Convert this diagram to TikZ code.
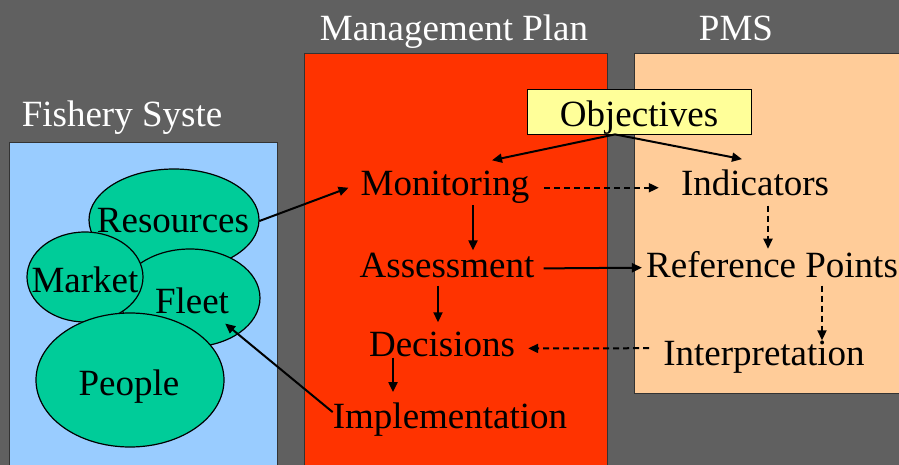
\documentclass[tikz,border=0pt]{standalone}
\usepackage{fontspec}
\setmainfont{Liberation Serif}
\usetikzlibrary{arrows.meta}

\definecolor{slidegray}{RGB}{96,96,96}
\definecolor{fishblue}{RGB}{153,204,255}
\definecolor{planred}{RGB}{255,51,0}
\definecolor{pmspeach}{RGB}{255,204,153}
\definecolor{blobgreen}{RGB}{0,204,153}
\definecolor{objyellow}{RGB}{255,255,153}
\newcommand{\slidefont}{\fontsize{37pt}{44pt}\selectfont}

\begin{document}
\begin{tikzpicture}[x=1pt, y=-1pt,
    txt/.style={font=\slidefont, inner sep=0pt, anchor=base},
    title/.style={txt, text=white},
    panel/.style={draw=black!80, line width=1pt},
    blob/.style={fill=blobgreen, draw=black, line width=1.2pt},
    arr/.style={line width=2pt, -{Triangle[length=10pt,width=9pt]}},
    dasharr/.style={arr, dash pattern=on 6pt off 4pt}]
    \useasboundingbox (0,0) rectangle (899,465);
    \clip (0,0) rectangle (899,465);
    \fill[slidegray] (0,0) rectangle (899,465);

    % draw panels
    \draw[panel, fill=fishblue] (9,143) rectangle (277,475);
    \draw[panel, fill=planred] (304,54) rectangle (607,475);
    \draw[panel, fill=pmspeach] (634,54) rectangle (910,393);

    % draw titles
    \node[title] (fishtitle) at (122,127) {Fishery Syste};
    \node[title] (plantitle) at (454,41) {Management Plan};
    \node[title] (pmstitle) at (736,41) {PMS};

    % draw ellipses
    \foreach \cx/\cy/\rx/\ry in {174/220/85/51, 190/298/70/49, 85/277/58/45, 130/380/94/67}
      \draw[blob] (\cx,\cy) ellipse [x radius=\rx, y radius=\ry];

    \node[txt] (res) at (173,233) {Resources};
    \node[txt] (mkt) at (85,292) {Market};
    \node[txt] (flt) at (192,313) {Fleet};
    \node[txt] (ppl) at (129,395) {People};

    % draw plan steps
    \node[txt] (mon) at (445,196) {Monitoring};
    \node[txt] (ass) at (447,277) {Assessment};
    \node[txt] (dec) at (442,356) {Decisions};
    \node[txt] (impl) at (450,428) {Implementation};

    % draw pms items
    \node[txt] (ind) at (755,196) {Indicators};
    \node[txt] (ref) at (772,277) {Reference Points};
    \node[txt] (int) at (764,365) {Interpretation};

    \node[txt, anchor=center, fill=objyellow, draw=black, line width=0.8pt,
      minimum width=224pt, minimum height=45pt, text height=30pt, text depth=0pt]
      (obj) at (639,111.5) {Objectives};

    % draw solid arrows
    \draw[arr] ([xshift=10pt]res.east) -- ([xshift=-12pt]mon.west);
    \draw[arr] ([yshift=7pt]impl.west) -- ([shift={(-4,10)}]flt.south east);
    \draw[arr] ([xshift=-24pt]obj.south) -- ([shift={(47,-11)}]mon.north);
    \draw[arr] ([xshift=-24pt]obj.south) -- ([shift={(-13,-11)}]ind.north);
    \draw[arr, shorten <=1pt, shorten >=2pt] ([xshift=28pt]mon.south) -- ([xshift=26pt]ass.north);
    \draw[arr, shorten <=8pt, shorten >=9pt] ([xshift=-9pt]ass.south) -- ([xshift=-4pt]dec.north);
    \draw[arr, shorten <=1pt, shorten >=10pt] ([xshift=-49pt]dec.south) -- ([xshift=-57pt]impl.north);
    \draw[arr, shorten <=9pt, shorten >=4pt] ([yshift=-3.5pt]ass.east) -- ([yshift=-3.5pt]ref.west);

    % draw dashed arrows
    \draw[dasharr, shorten <=15pt, shorten >=22pt] (mon.east) -- (mon.east -| ind.west);
    \draw[dasharr, shorten <=9pt, shorten >=2pt] ([xshift=13pt]ind.south) -- ([xshift=-4pt]ref.north);
    \draw[dasharr, shorten <=8pt] ([xshift=50pt]ref.south) -- ([xshift=58pt]int.north);
    \draw[dasharr, shorten <=14pt, shorten >=13pt] ([yshift=8.5pt]int.west) -- ([yshift=-4.5pt]dec.east);
\end{tikzpicture}
\end{document}
